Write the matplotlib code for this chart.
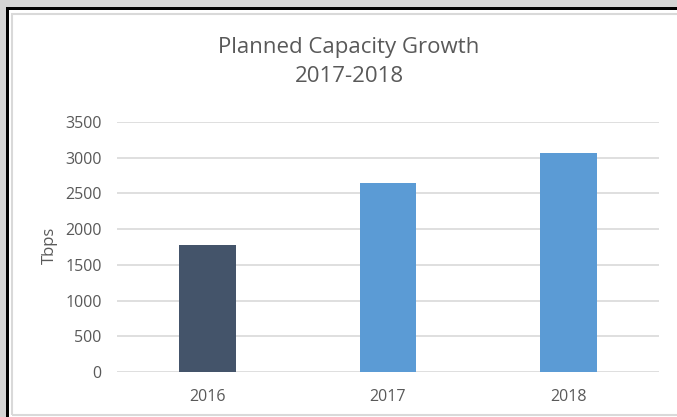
import matplotlib.pyplot as plt
from matplotlib.patches import Rectangle

# ---------------- data ----------------
years = ["2016", "2017", "2018"]
capacity = [1782, 2647, 3066]
bar_colors = ["#44546a", "#5b9bd5", "#5b9bd5"]
yticks = [0, 500, 1000, 1500, 2000, 2500, 3000, 3500]

W, H = 677, 417
plt.rcParams["font.family"] = ["Open Sans", "DejaVu Sans"]
TXT = "#595959"

fig = plt.figure(figsize=(W / 100, H / 100), dpi=100, facecolor="#d4d4d4")


def px(x, y, w, h):
    # pixel box (top-left origin) -> figure fractions
    return (x / W, 1 - (y + h) / H), w / W, h / H


# frame: black line, white page, light grey inner border
xy, w, h = px(6, 7, 700, 420)
fig.patches.append(Rectangle(xy, w, h, transform=fig.transFigure, facecolor="black", edgecolor="none", zorder=-3))
xy, w, h = px(8.5, 9.5, 700, 420)
fig.patches.append(Rectangle(xy, w, h, transform=fig.transFigure, facecolor="white", edgecolor="none", zorder=-2))
xy, w, h = px(11.5, 13.5, 700, 401.5)
fig.patches.append(Rectangle(xy, w, h, transform=fig.transFigure, facecolor="none",
                             edgecolor="#d9d9d9", linewidth=1.5, zorder=-1))

ax = fig.add_axes([117 / W, 1 - 372 / H, (659 - 117) / W, (372 - 122) / H])
ax.set_zorder(2)
ax.set_facecolor("none")
ax.bar(years, capacity, width=0.315, color=bar_colors, zorder=3)
ax.set_xlim(-0.5, 2.5)
ax.set_ylim(0, 3500)
ax.set_yticks(yticks)
ax.grid(axis="y", color="#d9d9d9", linewidth=1.2, zorder=0)
for s in ax.spines.values():
    s.set_visible(False)
ax.tick_params(axis="both", length=0, colors=TXT, labelsize=11.5)
ax.tick_params(axis="y", pad=11)
ax.tick_params(axis="x", pad=12.5)

fig.text(50 / W, 1 - 245 / H, "Tbps", rotation=90, ha="center", va="center", color=TXT, fontsize=12)
fig.text(349 / W, 1 - 47 / H, "Planned Capacity Growth", ha="center", va="center", color=TXT, fontsize=16)
fig.text(349 / W, 1 - 77 / H, "2017-2018", ha="center", va="center", color=TXT, fontsize=16)

fig.savefig("out.png", dpi=100, facecolor=fig.get_facecolor())
